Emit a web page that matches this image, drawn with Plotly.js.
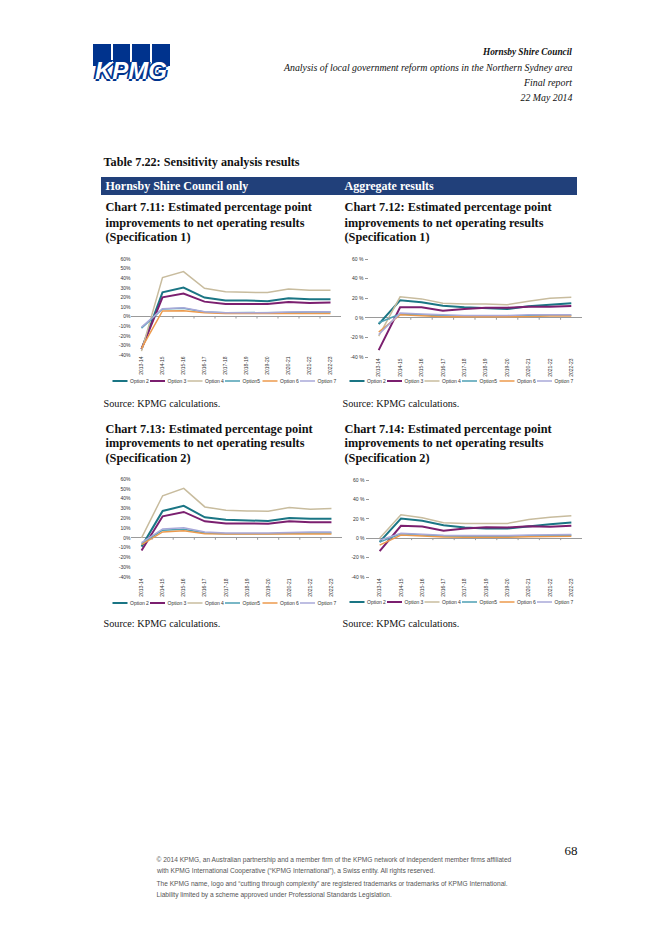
<!DOCTYPE html>
<html><head><meta charset="utf-8">
<script src="https://cdn.plot.ly/plotly-3.0.1.min.js"></script>
<style>
html,body{margin:0;padding:0;background:#fff;overflow:hidden;width:656px;height:928px}
#wrap{width:656px;height:928px;overflow:hidden;position:relative}
#chart{width:1312px;height:1856px;transform:scale(0.5);transform-origin:0 0}
</style></head><body><div id="wrap"><div id="chart"></div></div>
<script>
// ---------- data ----------
const categories = ['2013-14','2014-15','2015-16','2016-17','2017-18','2018-19','2019-20','2020-21','2021-22','2022-23'];
const optionNames = ['Option 2','Option 3','Option 4','Option5','Option 6','Option 7'];

// Chart 7.11: Hornsby only, Specification 1
const c711_opt2 = [-34, 25.3, 30.2, 19.8, 16.7, 16.7, 16.0, 19.1, 18.0, 18.0];
const c711_opt3 = [-34, 20.1, 24.0, 15.6, 13.2, 13.2, 13.2, 15.3, 14.2, 14.6];
const c711_opt4 = [-36, 40.6, 46.9, 29.5, 26.0, 25.3, 25.0, 28.8, 27.4, 27.4];
const c711_opt5 = [-12, 8.0, 8.7, 4.8, 4.0, 4.0, 4.0, 4.3, 4.8, 4.8];
const c711_opt6 = [-33, 5.9, 6.2, 4.0, 3.2, 3.2, 3.2, 3.3, 3.3, 3.3];
const c711_opt7 = [-11, 8.3, 9.2, 5.0, 4.0, 4.0, 4.0, 4.8, 5.0, 5.0];

// Chart 7.12: Aggregate, Specification 1
const c712_opt2 = [-6.5, 17.9, 15.9, 12.4, 10.7, 9.7, 9.0, 11.7, 13.4, 14.8];
const c712_opt3 = [-33, 10.7, 10.7, 7.2, 9.0, 10.3, 10.3, 11.4, 11.4, 12.0];
const c712_opt4 = [-18.6, 21.4, 19.3, 14.8, 14.1, 14.1, 13.4, 16.9, 20.0, 21.0];
const c712_opt5 = [-5, 3.8, 3.0, 2.0, 2.0, 2.0, 2.0, 2.0, 2.6, 2.6];
const c712_opt6 = [-14.5, 3.0, 2.0, 1.0, 1.0, 1.0, 1.0, 1.2, 1.8, 1.8];
const c712_opt7 = [-17, 4.8, 4.0, 3.0, 2.4, 2.4, 2.4, 3.0, 3.2, 3.2];

// Chart 7.13: Hornsby only, Specification 2
const c713_opt2 = [-9, 27.4, 32.6, 20.9, 18.5, 17.8, 17.1, 20.2, 19.5, 19.5];
const c713_opt3 = [-13, 21.9, 26.4, 16.8, 14.7, 14.4, 14.4, 16.8, 15.8, 15.8];
const c713_opt4 = [0, 42.9, 50.4, 31.5, 28.1, 27.4, 27.1, 30.9, 29.1, 29.8];
const c713_opt5 = [-6, 7.8, 8.8, 5.0, 4.2, 4.2, 4.2, 4.6, 5.0, 5.0];
const c713_opt6 = [-7, 6.0, 7.2, 4.2, 3.8, 3.8, 3.8, 4.0, 4.0, 4.0];
const c713_opt7 = [-5, 9.0, 10.3, 6.0, 5.0, 5.0, 5.0, 5.4, 5.8, 5.8];

// Chart 7.14: Aggregate, Specification 2
const c714_opt2 = [-3.8, 20.3, 17.9, 13.4, 11.0, 10.0, 10.0, 12.4, 14.5, 16.2];
const c714_opt3 = [-13.4, 12.8, 12.1, 7.6, 10.0, 11.4, 11.0, 12.4, 11.7, 12.8];
const c714_opt4 = [0, 24.1, 21.0, 15.9, 15.2, 15.2, 15.2, 19.3, 21.7, 23.1];
const c714_opt5 = [-4, 4.5, 3.2, 2.2, 2.0, 2.0, 2.0, 2.4, 2.8, 3.0];
const c714_opt6 = [-7.2, 3.2, 2.2, 1.2, 1.0, 1.0, 1.0, 1.4, 1.8, 2.0];
const c714_opt7 = [-2, 5.0, 4.0, 3.0, 2.8, 2.8, 2.8, 3.2, 3.6, 3.8];

const yTickVals10 = [-40,-30,-20,-10,0,10,20,30,40,50,60];
const yTickText10 = ['-40%','-30%','-20%','-10%','0%','10%','20%','30%','40%','50%','60%'];
const yTickVals20 = [-40,-20,0,20,40,60];
const yTickText20 = ['-40 %','-20 %','0 %','20 %','40 %','60 %'];

// ---------- styles ----------
const S = 2, W = 656, H = 928;
const X = p => p / W, Y = p => 1 - p / H;
const SERIF = 'Liberation Serif', SANS = 'Liberation Sans';
const colors = ['#1a7584','#7b1f6f','#c8bc9e','#4d9fb3','#ec9a4c','#a9a9d9'];
const widths = [2, 2, 1.5, 1.5, 1.5, 1.5];

const charts = [
  {series:[c711_opt2,c711_opt3,c711_opt4,c711_opt5,c711_opt6,c711_opt7], xd:[131,341], yd:[259,355], fine:true,  leg:[110,381]},
  {series:[c712_opt2,c712_opt3,c712_opt4,c712_opt5,c712_opt6,c712_opt7], xd:[368,582], yd:[259,357], fine:false, leg:[347,381]},
  {series:[c713_opt2,c713_opt3,c713_opt4,c713_opt5,c713_opt6,c713_opt7], xd:[131,342], yd:[479,577], fine:true,  leg:[110,603]},
  {series:[c714_opt2,c714_opt3,c714_opt4,c714_opt5,c714_opt6,c714_opt7], xd:[369,582], yd:[480,577], fine:false, leg:[347,602]}
];

const traces = [];
const layout = {
  width: W*S, height: H*S, margin:{l:0,r:0,t:0,b:0},
  paper_bgcolor:'#fff', plot_bgcolor:'rgba(0,0,0,0)',
  showlegend:true, annotations:[], shapes:[]
};

charts.forEach((c, k) => {
  const sfx = k ? String(k+1) : '';
  const legName = 'legend' + sfx;
  c.series.forEach((vals, i) => {
    const tr = {type:'scatter', mode:'lines', x:categories, y:vals, name:optionNames[i],
      xaxis:'x'+sfx, yaxis:'y'+sfx, legend:legName, hoverinfo:'skip',
      line:{color:colors[i], width:widths[i]*S}};
    if (i === c.series.length - 1) tr.legendwidth = 42;
    traces.push(tr);
  });
  layout['xaxis'+sfx] = {
    domain:[X(c.xd[0]), X(c.xd[1])], anchor:'y'+sfx, type:'category', range:[-0.5, 9.5],
    tickangle:-90, tickfont:{family:SANS, size:5*S, color:'#333'}, showline:false,
    ticks:'', showgrid:false, zeroline:false, fixedrange:true
  };
  layout['yaxis'+sfx] = {
    domain:[Y(c.yd[1]), Y(c.yd[0])], anchor:'x'+sfx, range:[-40, 60],
    tickmode:'array', tickvals: c.fine ? yTickVals10 : yTickVals20, ticktext: c.fine ? yTickText10 : yTickText20,
    tickfont:{family:SANS, size:5*S, color:'#333'}, showgrid:false, showline:false,
    zeroline:true, zerolinecolor:'#9a9a9a', zerolinewidth:1*S,
    ticks: c.fine ? '' : 'outside', ticklen: 3*S, tickwidth:1*S, tickcolor:'#999', fixedrange:true
  };
  layout[legName] = {
    orientation:'h', x:X(c.leg[0]), y:Y(c.leg[1]), xanchor:'left', yanchor:'middle',
    font:{family:SANS, size:5*S, color:'#333'}, bgcolor:'rgba(0,0,0,0)', borderwidth:0,
    itemwidth:30, tracegroupgap:0, entrywidth:30, entrywidthmode:'pixels'
  };
  // small tick marks at category boundaries on the zero line
  for (let b = 0; b < categories.length - 1; b++) {
    layout.shapes.push({type:'line', xref:'x'+sfx, yref:'y'+sfx, x0:b+0.5, x1:b+0.5, y0:0, y1:-2,
      line:{color:'#9a9a9a', width:1*S}});
  }
});

// page furniture
function txt(text, x, y, size, opt) {
  opt = opt || {};
  return {text:text, x:X(x), y:Y(y), xref:'paper', yref:'paper', showarrow:false,
    xanchor:opt.anchor||'left', yanchor:'middle', borderpad:0,
    font:Object.assign({family:opt.family||SERIF, size:size*S, color:opt.color||'#111'}, opt.font||{})};
}
const A = layout.annotations;
// KPMG logo
[[93,111],[113,130],[132,150],[152,170]].forEach(r => layout.shapes.push({type:'rect', xref:'paper', yref:'paper',
  x0:X(r[0]), x1:X(r[1]), y0:Y(66), y1:Y(44), fillcolor:'#00338d', line:{width:0}}));
A.push(txt('<b><i>KPMG</i></b>', 131, 70, 24, {anchor:'center', family:SANS, color:'#ffffff',
  font:{shadow:'2px 0 0 #00338d, -2px 0 0 #00338d, 0 2px 0 #00338d, 0 -2px 0 #00338d'}}));
// header
A.push(txt('<b><i>Hornsby Shire Council</i></b>', 573, 52, 9.3, {anchor:'right'}));
A.push(txt('<i>Analysis of local government reform options in the Northern Sydney area</i>', 573, 67, 9.85, {anchor:'right'}));
A.push(txt('<i>Final report</i>', 573, 82, 9.85, {anchor:'right'}));
A.push(txt('<i>22 May 2014</i>', 573, 97, 9.85, {anchor:'right'}));
// table heading
A.push(txt('<b>Table 7.22: Sensitivity analysis results</b>', 103, 162, 12.2));
layout.shapes.push({type:'rect', xref:'paper', yref:'paper', x0:X(101), x1:X(577), y0:Y(195), y1:Y(177),
  fillcolor:'#21407a', line:{width:0}, layer:'below'});
A.push(txt('<b>Hornsby Shire Council only</b>', 105, 186, 12, {color:'#ffffff'}));
A.push(txt('<b>Aggregate results</b>', 344, 186, 12, {color:'#ffffff'}));
// chart titles
const titleLines = [
  [105, [207,222,237], ['Chart 7.11: Estimated percentage point','improvements to net operating results','(Specification 1)']],
  [344, [207,222,237], ['Chart 7.12: Estimated percentage point','improvements to net operating results','(Specification 1)']],
  [105, [428,443,458], ['Chart 7.13: Estimated percentage point','improvements to net operating results','(Specification 2)']],
  [344, [428,443,458], ['Chart 7.14: Estimated percentage point','improvements to net operating results','(Specification 2)']]
];
titleLines.forEach(t => t[2].forEach((line, j) => A.push(txt('<b>'+line+'</b>', t[0], t[1][j], 12.3))));
// sources
A.push(txt('Source: KPMG calculations.', 103, 403, 10.2));
A.push(txt('Source: KPMG calculations.', 342, 403, 10.2));
A.push(txt('Source: KPMG calculations.', 103, 623, 10.2));
A.push(txt('Source: KPMG calculations.', 342, 623, 10.2));
// page number and footer
A.push(txt('68', 578, 850, 13, {anchor:'right'}));
const footer = [
  ['© 2014 KPMG, an Australian partnership and a member firm of the KPMG network of independent member firms affiliated', 859],
  ['with KPMG International Cooperative (“KPMG International”), a Swiss entity. All rights reserved.', 870],
  ['The KPMG name, logo and “cutting through complexity” are registered trademarks or trademarks of KPMG International.', 883],
  ['Liability limited by a scheme approved under Professional Standards Legislation.', 894]
];
footer.forEach(f => A.push(txt(f[0], 156, f[1], 6.6, {family:SANS, color:'#555'})));

Plotly.newPlot('chart', traces, layout, {displayModeBar:false, staticPlot:true});
</script></body></html>
